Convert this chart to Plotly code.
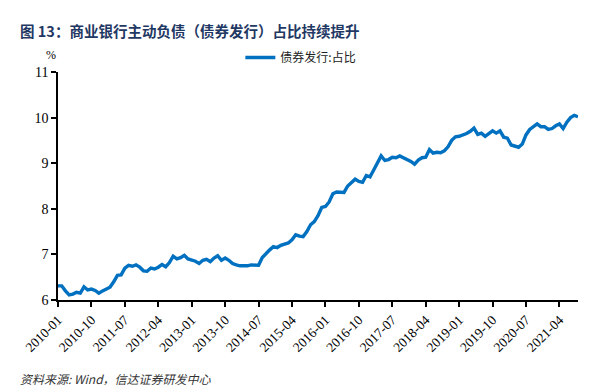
import plotly.graph_objects as go

# monthly categories 2010-01 .. 2021-09
months = [f"{y}-{m:02d}" for y in range(2010, 2022) for m in range(1, 13)][:141]

bond_share = [
    6.31, 6.31, 6.20, 6.11, 6.13, 6.17, 6.15, 6.29, 6.22, 6.24,
    6.21, 6.15, 6.20, 6.25, 6.28, 6.40, 6.54, 6.55, 6.70, 6.76,
    6.74, 6.77, 6.72, 6.64, 6.63, 6.70, 6.68, 6.72, 6.78, 6.73,
    6.82, 6.96, 6.90, 6.93, 6.98, 6.90, 6.88, 6.85, 6.80, 6.87,
    6.89, 6.84, 6.92, 6.97, 6.87, 6.92, 6.87, 6.80, 6.77, 6.75,
    6.75, 6.75, 6.77, 6.77, 6.76, 6.93, 7.02, 7.10, 7.17, 7.15,
    7.20, 7.22, 7.25, 7.32, 7.43, 7.40, 7.39, 7.50, 7.65, 7.72,
    7.85, 8.03, 8.05, 8.15, 8.33, 8.37, 8.37, 8.36, 8.50, 8.58,
    8.65, 8.60, 8.58, 8.73, 8.70, 8.85, 9.02, 9.16, 9.06, 9.08,
    9.13, 9.12, 9.16, 9.12, 9.09, 9.04, 8.98, 9.07, 9.12, 9.13,
    9.30, 9.22, 9.24, 9.23, 9.27, 9.36, 9.50, 9.58, 9.59, 9.62,
    9.65, 9.70, 9.77, 9.63, 9.66, 9.59, 9.64, 9.71, 9.66, 9.71,
    9.57, 9.55, 9.40, 9.37, 9.35, 9.42, 9.62, 9.74, 9.80, 9.86,
    9.80, 9.80, 9.74, 9.76, 9.82, 9.86, 9.76, 9.90, 10.00, 10.05,
    10.02,
]

x_ticks = ["2010-01", "2010-10", "2011-07", "2012-04", "2013-01", "2013-10",
           "2014-07", "2015-04", "2016-01", "2016-10", "2017-07", "2018-04",
           "2019-01", "2019-10", "2020-07", "2021-04"]

series_name = "债券发行:占比"
title_text = "图 13：商业银行主动负债（债券发行）占比持续提升"
source_text = "资料来源: Wind，信达证券研发中心"

serif = "Liberation Serif, Times New Roman, serif"
cjk = "Noto Sans CJK SC"

L, R, T, B = 58, 15, 72, 90
W, H = 593, 390

fig = go.Figure()
fig.add_trace(go.Scatter(
    x=months, y=bond_share, mode="lines", name=series_name,
    line=dict(color="#0070C0", width=3.4),
))

fig.update_layout(
    width=W, height=H,
    margin=dict(l=L, r=R, t=T, b=B),
    paper_bgcolor="white", plot_bgcolor="white",
    showlegend=True,
    legend=dict(orientation="h", x=0.467, xanchor="center", y=1.0, yanchor="bottom",
                font=dict(family=cjk, size=12, color="#222"),
                bgcolor="rgba(0,0,0,0)"),
    xaxis=dict(type="category", range=[0, len(months) - 1], automargin=False,
               tickmode="array", tickvals=x_ticks, ticktext=x_ticks,
               tickangle=-45, ticks="outside", ticklen=5, tickwidth=1.5,
               tickcolor="black", showline=True, linecolor="black", linewidth=1.5,
               showgrid=False, zeroline=False,
               tickfont=dict(family=serif, size=13.5, color="black")),
    yaxis=dict(range=[6, 11], dtick=1, ticks="outside", ticklen=5, tickwidth=1.5,
               automargin=False,
               tickcolor="black", showline=True, linecolor="black", linewidth=1.5,
               showgrid=False, zeroline=False,
               tickfont=dict(family=serif, size=14, color="black")),
)

pw = W - L - R
ph = H - T - B


def px(x, y):
    return (x - L) / pw, (H - B - y) / ph


anns = [
    (title_text, 18, 30, "left", dict(family=cjk, size=14.5, color="#1F3864", weight="bold")),
    ("%", 51, 55, "center", dict(family=serif, size=12, color="black")),
    ("<i>" + source_text + "</i>", 18, 378, "left", dict(family=cjk, size=12, color="#333")),
]
for text, x, y, anchor, font in anns:
    ax, ay = px(x, y)
    fig.add_annotation(text=text, x=ax, y=ay, xref="paper", yref="paper",
                       xanchor=anchor, yanchor="middle", showarrow=False, font=font)

fig.write_html("out.html", config={"displayModeBar": False},
               post_script="document.body.style.margin='0px';document.body.style.overflow='hidden';")
